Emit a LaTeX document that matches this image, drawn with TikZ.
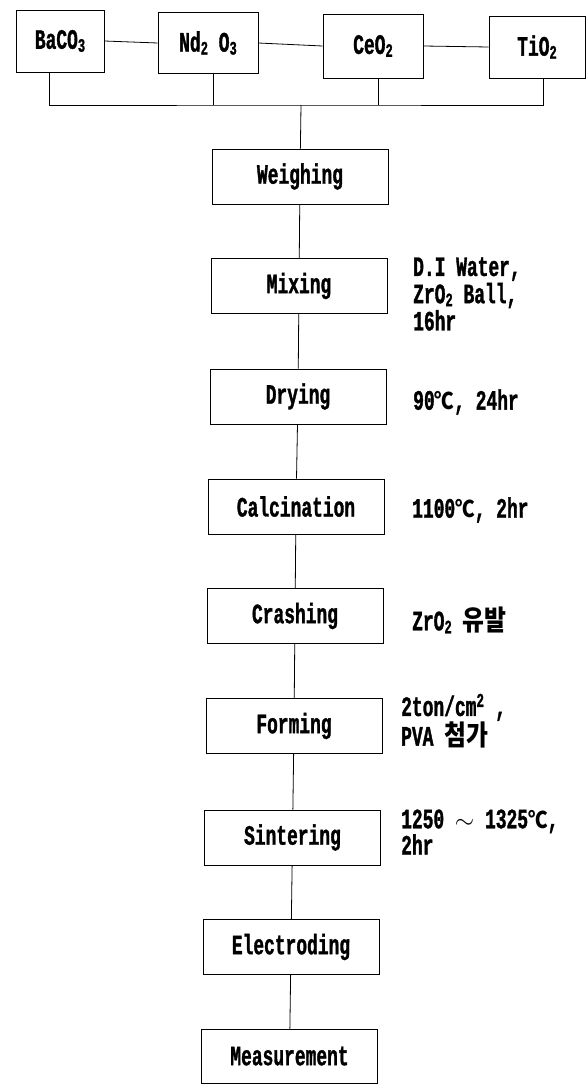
\documentclass[tikz,border=0pt]{standalone}
\usepackage{fontspec}
\newfontfamily\labfont{Liberation Mono}[FakeStretch=0.64,FakeBold=1.2]
\newfontfamily\krfont{Noto Sans CJK KR}[FakeStretch=0.85]
\newcommand\cdeg{{\krfont\bfseries\fontsize{23}{24}\selectfont ℃}}
\newcommand\lowsub[1]{\raisebox{-3pt}{\fontsize{19}{19}\selectfont #1}}
\begin{document}
\begin{tikzpicture}[x=1pt,y=-1pt,
  txt/.style={font=\labfont\bfseries\fontsize{28}{24.5}\selectfont},
  topbox/.style={draw, line width=0.8pt, inner sep=0pt, txt},
  box/.style={draw, line width=0.8pt, inner sep=0pt, minimum width=176pt, minimum height=55pt, txt},
  note/.style={anchor=west, align=left, inner sep=0pt, txt},
  conn/.style={line width=0.8pt}]
\useasboundingbox (0,0) rectangle (587,1084);
% raw materials
\node[topbox, minimum width=88pt, minimum height=62pt] (ba) at (60,41) {BaCO\lowsub{3}};
\node[topbox, minimum width=100pt, minimum height=61pt] (nd) at (208,43) {Nd\lowsub{2} O\lowsub{3}};
\node[topbox, minimum width=100pt, minimum height=64pt] (ce) at (373,46) {CeO\lowsub{2}};
\node[topbox, minimum width=96pt, minimum height=62pt] (ti) at (537,47) {TiO\lowsub{2}};
\draw[conn] (ba.east) -- (nd.west);
\draw[conn] (nd.east) -- (ce.west);
\draw[conn] (ce.east) -- (ti.west);
\coordinate (bus) at (301,105);
\draw[conn] ([xshift=-11pt]ba.south) |- (bus) -| ([xshift=6pt]ti.south);
\draw[conn] ([xshift=5pt]nd.south) -- ([xshift=5pt]nd.south |- bus);
\draw[conn] ([xshift=5pt]ce.south) -- ([xshift=5pt]ce.south |- bus);
% process
\node[box] (w) at (300,176.5) {Weighing};
\node[box] (m) at (299,286) {Mixing};
\node[box] (d) at (298,396.5) {Drying};
\node[box] (c) at (296,506.5) {Calcination};
\node[box] (cr) at (295,616) {Crashing};
\node[box] (f) at (294,726) {Forming};
\node[box] (s) at (292.5,837.5) {Sintering};
\node[box] (e) at (291,947) {Electroding};
\node[box, minimum height=54pt] (me) at (289.5,1056) {Measurement};
\draw[conn] (bus) -- (w);
\draw[conn] (w) -- (m);
\draw[conn] (m) -- (d);
\draw[conn] (d) -- (c);
\draw[conn] (c) -- (cr);
\draw[conn] (cr) -- (f);
\draw[conn] (f) -- (s);
\draw[conn] (s) -- (e);
\draw[conn] (e) -- (me);
% conditions
\node[note] (nm) at (413,294) {D.I Water,\\[1pt]ZrO\lowsub{2} Ball,\\[1pt]16hr};
\node[note] (nd2) at (413,402) {90\cdeg, 24hr};
\node[note] (nc) at (412,510) {1100\cdeg, 2hr};
\node[note] (ncr) at (412,620) {ZrO\lowsub{2} {\krfont\bfseries 유발}};
\node[note] (nf) at (401,721) {2ton/cm\textsuperscript{2} ,\\PVA {\krfont\bfseries 첨가}};
\node[note] (ns) at (401,832) {1250 $\sim$ 1325\cdeg,\\2hr};
\end{tikzpicture}
\end{document}
